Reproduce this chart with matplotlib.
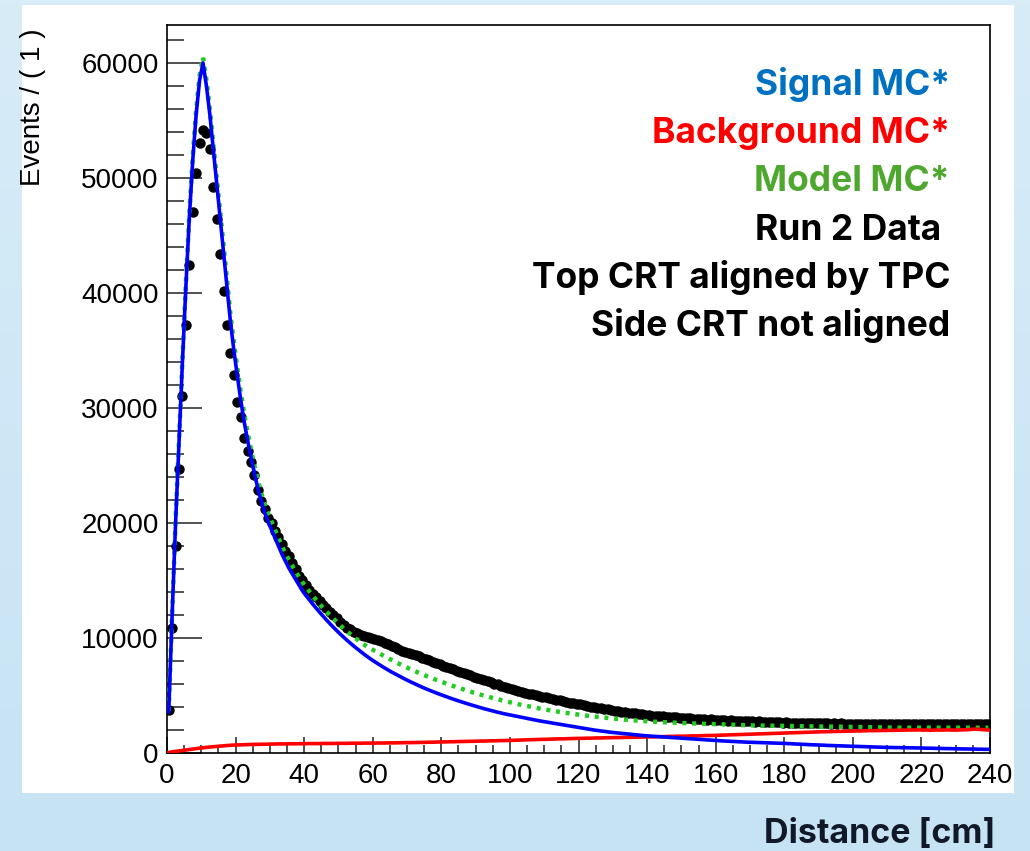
import matplotlib
matplotlib.use("Agg")
import matplotlib.pyplot as plt
import numpy as np
from matplotlib.ticker import MultipleLocator

# bin centres are 0.5, 1.5, ... 239.5 (1 cm bins)
data_counts = [
    3700, 10900, 18000, 24700, 31000, 37200, 42400, 47000, 50400, 53000,
    54200, 53900, 52500, 49200, 46400, 43400, 40200, 37200, 34800, 32900,
    30500, 29200, 27400, 26300, 25300, 24200, 22900, 21900, 21200, 20400,
    20000, 19300, 18800, 18200, 17600, 17100, 16500, 16000, 15400, 15000,
    14600, 14200, 13800, 13550, 13200, 12900, 12600, 12250, 12000, 11750,
    11400, 11150, 10900, 10750, 10550, 10450, 10300, 10200, 10100, 10000,
    9900, 9820, 9700, 9600, 9450, 9330, 9200, 9050, 8900, 8820,
    8700, 8620, 8480, 8400, 8250, 8160, 8050, 7940, 7820, 7700,
    7600, 7520, 7400, 7290, 7170, 7060, 6950, 6870, 6740, 6650,
    6560, 6440, 6360, 6250, 6160, 6040, 5960, 5850, 5770, 5650,
    5560, 5490, 5400, 5320, 5260, 5170, 5110, 5030, 4980, 4890,
    4850, 4760, 4720, 4640, 4590, 4510, 4470, 4390, 4350, 4270,
    4230, 4150, 4110, 4030, 4000, 3920, 3890, 3820, 3790, 3720,
    3690, 3630, 3600, 3540, 3520, 3460, 3440, 3380, 3370, 3320,
    3310, 3260, 3250, 3200, 3190, 3150, 3140, 3100, 3100, 3060,
    3060, 3020, 3020, 2980, 2980, 2950, 2950, 2910, 2920, 2880,
    2890, 2850, 2860, 2820, 2830, 2800, 2810, 2770, 2780, 2750,
    2760, 2730, 2740, 2710, 2720, 2690, 2700, 2670, 2680, 2650,
    2670, 2640, 2650, 2620, 2640, 2610, 2620, 2600, 2610, 2580,
    2600, 2570, 2590, 2560, 2580, 2550, 2570, 2540, 2560, 2540,
    2560, 2530, 2550, 2520, 2550, 2520, 2540, 2510, 2540, 2510,
    2540, 2500, 2540, 2510, 2530, 2500, 2540, 2510, 2530, 2500,
    2530, 2510, 2540, 2500, 2530, 2510, 2540, 2500, 2530, 2510,
    2540, 2510, 2530, 2500, 2540, 2510, 2530, 2510, 2540, 2520,
]

signal_mc = [
    3600, 12000, 20000, 27000, 34000, 40500, 46500, 51500, 55500, 58500,
    60000, 58000, 55500, 52500, 49500, 46500, 43500, 40500, 37500, 35000,
    32800, 30700, 28800, 27200, 25700, 24300, 23000, 21900, 20900, 20100,
    19400, 18700, 18000, 17300, 16700, 16100, 15600, 15100, 14600, 14100,
    13700, 13320, 12950, 12590, 12240, 11900, 11570, 11250, 10940, 10640,
    10350, 10070, 9800, 9540, 9290, 9050, 8810, 8580, 8360, 8150,
    7950, 7760, 7570, 7390, 7210, 7040, 6880, 6720, 6560, 6410,
    6260, 6120, 5980, 5840, 5710, 5580, 5460, 5340, 5220, 5110,
    5000, 4890, 4780, 4680, 4580, 4480, 4380, 4290, 4200, 4110,
    4020, 3930, 3850, 3770, 3690, 3610, 3540, 3470, 3400, 3340,
    3280, 3220, 3160, 3100, 3040, 2980, 2920, 2860, 2800, 2750,
    2700, 2650, 2600, 2550, 2500, 2450, 2400, 2350, 2300, 2250,
    2200, 2150, 2100, 2050, 2000, 1960, 1920, 1880, 1840, 1800,
    1770, 1740, 1710, 1680, 1650, 1620, 1590, 1560, 1530, 1500,
    1480, 1460, 1440, 1420, 1400, 1380, 1360, 1340, 1320, 1300,
    1280, 1260, 1240, 1220, 1200, 1180, 1160, 1140, 1120, 1100,
    1080, 1060, 1040, 1030, 1010, 1000, 980, 970, 950, 940,
    930, 920, 910, 900, 890, 880, 870, 860, 850, 840,
    830, 810, 800, 780, 770, 750, 740, 720, 710, 700,
    690, 680, 660, 650, 640, 630, 620, 610, 600, 590,
    580, 570, 560, 550, 540, 530, 520, 510, 500, 490,
    480, 480, 470, 470, 460, 460, 450, 450, 440, 440,
    430, 420, 420, 410, 400, 400, 390, 380, 380, 370,
    360, 360, 350, 350, 340, 340, 330, 330, 320, 320,
]

background_mc = [
    50, 100, 140, 180, 220, 260, 300, 340, 380, 420,
    450, 490, 520, 550, 570, 600, 620, 650, 670, 690,
    700, 710, 720, 730, 740, 750, 750, 760, 760, 770,
    780, 780, 790, 790, 790, 800, 800, 800, 810, 810,
    810, 820, 820, 820, 820, 830, 830, 830, 830, 840,
    840, 840, 840, 850, 850, 850, 850, 860, 860, 860,
    860, 870, 870, 870, 880, 880, 880, 890, 890, 900,
    900, 910, 910, 920, 920, 930, 940, 940, 950, 960,
    960, 970, 980, 980, 990, 1000, 1000, 1010, 1020, 1020,
    1030, 1040, 1040, 1050, 1060, 1060, 1070, 1080, 1080, 1090,
    1100, 1110, 1120, 1130, 1140, 1150, 1160, 1170, 1180, 1190,
    1190, 1200, 1210, 1220, 1230, 1230, 1240, 1250, 1260, 1270,
    1270, 1280, 1290, 1290, 1300, 1310, 1310, 1320, 1330, 1330,
    1340, 1340, 1350, 1360, 1360, 1370, 1370, 1380, 1390, 1390,
    1400, 1400, 1410, 1420, 1420, 1430, 1440, 1440, 1450, 1460,
    1460, 1470, 1480, 1490, 1490, 1500, 1510, 1520, 1520, 1530,
    1540, 1550, 1560, 1570, 1580, 1590, 1600, 1610, 1620, 1630,
    1640, 1650, 1660, 1670, 1680, 1690, 1700, 1710, 1720, 1730,
    1740, 1750, 1760, 1770, 1780, 1790, 1800, 1810, 1820, 1830,
    1840, 1850, 1850, 1860, 1870, 1880, 1880, 1890, 1900, 1900,
    1910, 1920, 1920, 1930, 1940, 1940, 1950, 1950, 1960, 1960,
    1970, 1970, 1980, 1980, 1990, 1990, 2000, 2000, 2000, 2010,
    1990, 2000, 1980, 1990, 2000, 1990, 2000, 2010, 2000, 1990,
    2000, 2010, 2020, 2030, 2050, 2080, 2060, 2040, 2020, 2000,
]

model_mc = [
    3650, 12100, 20150, 27200, 34200, 40750, 46800, 51850, 55900, 58900,
    60500, 58500, 56000, 53000, 50000, 47100, 44100, 41100, 38150, 35700,
    33500, 31400, 29500, 27900, 26400, 25000, 23700, 22600, 21600, 20800,
    20100, 19400, 18700, 18000, 17400, 16800, 16300, 15800, 15300, 14850,
    14450, 14050, 13670, 13300, 12950, 12620, 12300, 11990, 11690, 11390,
    11100, 10830, 10570, 10320, 10080, 9850, 9630, 9420, 9220, 9060,
    8900, 8730, 8560, 8400, 8240, 8080, 7930, 7780, 7630, 7490,
    7350, 7220, 7090, 6960, 6830, 6710, 6590, 6470, 6360, 6250,
    6140, 6030, 5920, 5820, 5720, 5620, 5520, 5420, 5330, 5240,
    5150, 5060, 4980, 4900, 4820, 4740, 4660, 4590, 4520, 4450,
    4380, 4310, 4240, 4180, 4120, 4060, 4000, 3940, 3880, 3830,
    3770, 3720, 3670, 3620, 3570, 3520, 3480, 3440, 3400, 3360,
    3320, 3280, 3240, 3200, 3170, 3140, 3110, 3080, 3050, 3020,
    2990, 2960, 2930, 2900, 2880, 2850, 2830, 2810, 2790, 2770,
    2750, 2730, 2710, 2700, 2680, 2670, 2650, 2640, 2630, 2610,
    2600, 2590, 2580, 2570, 2560, 2550, 2540, 2530, 2520, 2510,
    2500, 2490, 2480, 2470, 2460, 2450, 2440, 2430, 2420, 2410,
    2400, 2390, 2390, 2380, 2380, 2380, 2370, 2370, 2360, 2360,
    2350, 2350, 2340, 2340, 2330, 2330, 2320, 2320, 2310, 2310,
    2300, 2300, 2300, 2290, 2290, 2290, 2280, 2280, 2270, 2270,
    2260, 2260, 2250, 2250, 2240, 2240, 2230, 2230, 2220, 2220,
    2210, 2210, 2210, 2200, 2200, 2200, 2200, 2200, 2200, 2200,
    2200, 2200, 2200, 2200, 2200, 2200, 2200, 2200, 2200, 2200,
    2200, 2200, 2200, 2200, 2200, 2200, 2200, 2200, 2200, 2200,
]

legend_lines = [
    ("Signal MC*", "#0070c0"),
    ("Background MC*", "#ff0000"),
    ("Model MC*", "#4ea72e"),
    ("Run 2 Data ", "black"),
    ("Top CRT aligned by TPC", "black"),
    ("Side CRT not aligned", "black"),
]

x_centres = np.arange(len(data_counts)) + 0.5

W, H = 1030, 851
fig = plt.figure(figsize=(W / 100, H / 100), dpi=100)

# light blue slide background with a soft vertical gradient
bg = fig.add_axes([0, 0, 1, 1], zorder=-10)
grad = np.linspace(0, 1, 256).reshape(-1, 1)
top_col = np.array([0xd8, 0xec, 0xf8]) / 255
bot_col = np.array([0xc6, 0xe3, 0xf4]) / 255
img = top_col + grad[..., None] * (bot_col - top_col)
bg.imshow(img, aspect="auto", extent=[0, 1, 0, 1])
bg.set_axis_off()

# white canvas behind the ROOT plot
panel = plt.Rectangle((22 / W, 1 - 793 / H), (1014 - 22) / W, (793 - 5) / H,
                      transform=fig.transFigure, facecolor="white", edgecolor="none", zorder=-5)
fig.patches.append(panel)

ax = fig.add_axes([167 / W, 1 - 753 / H, (990 - 167) / W, (753 - 25) / H])
ax.set_facecolor("white")

ax.errorbar(x_centres, data_counts, xerr=0.5, fmt="o", color="black", markersize=6.5,
            elinewidth=1.2, capsize=0, zorder=2)
ax.plot(x_centres, model_mc, color="#22cc22", lw=3.2, linestyle=(0, (0.9, 1.3)), zorder=3)
ax.plot(x_centres, background_mc, color="#ff0000", lw=2.6, zorder=3)
ax.plot(x_centres, signal_mc, color="#0000ff", lw=2.6, zorder=4)

ax.set_xlim(0, 240)
ax.set_ylim(0, 63300)

ax.xaxis.set_major_locator(MultipleLocator(20))
ax.xaxis.set_minor_locator(MultipleLocator(5))
ax.yaxis.set_major_locator(MultipleLocator(10000))
ax.yaxis.set_minor_locator(MultipleLocator(2000))
ax.tick_params(axis="both", which="both", direction="in", top=False, right=False,
               labelsize=20, width=1.2, color="#333333")
ax.tick_params(axis="y", which="major", length=25, pad=6)
ax.tick_params(axis="y", which="minor", length=12.5)
ax.tick_params(axis="x", which="major", length=11.5, pad=7)
ax.tick_params(axis="x", which="minor", length=5.5)
for lab in ax.get_xticklabels() + ax.get_yticklabels():
    lab.set_fontfamily("Liberation Sans")
for sp in ax.spines.values():
    sp.set_linewidth(1.2)

fig.text(33 / W, 1 - 28 / H, "Events / ( 1 )", rotation=90, ha="center", va="top",
         fontsize=20, family="Liberation Sans")

y0 = 95
for i, (txt, col) in enumerate(legend_lines):
    fig.text(950 / W, 1 - (y0 + i * 48.2) / H, txt, ha="right", va="baseline",
             fontsize=25.5, fontweight="bold", family="Inter", color=col)

fig.text(995 / W, 1 - 843 / H, "Distance [cm]", ha="right", va="baseline",
         fontsize=24.5, fontweight="bold", family="Inter", color="#111827")

fig.savefig("out.png", dpi=100)
